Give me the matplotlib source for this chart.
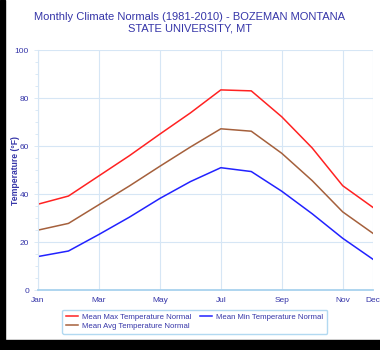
import matplotlib.pyplot as plt
from matplotlib.patches import Rectangle

plt.rcParams['font.family'] = ['Liberation Sans', 'DejaVu Sans']

months = ['Jan', 'Feb', 'Mar', 'Apr', 'May', 'Jun', 'Jul', 'Aug', 'Sep', 'Oct', 'Nov', 'Dec']
tick_months = ['Jan', 'Mar', 'May', 'Jul', 'Sep', 'Nov', 'Dec']
max_temp = [35.8, 39.2, 47.6, 56.0, 65.0, 73.8, 83.4, 83.0, 72.2, 59.2, 43.5, 34.4]
avg_temp = [25.0, 27.8, 35.6, 43.4, 51.6, 59.6, 67.2, 66.2, 57.0, 45.6, 32.6, 23.6]
min_temp = [14.0, 16.3, 23.2, 30.4, 38.2, 45.2, 51.0, 49.4, 41.2, 31.8, 21.6, 12.8]

text_col = '#3535a8'
grid_col = '#d6e6f5'

fig = plt.figure(figsize=(3.8, 3.5), dpi=100)
fig.patch.set_facecolor('white')
ax = fig.add_axes([0.1, 0.171, 0.882, 0.686])

x = list(range(len(months)))
ax.plot(x, max_temp, color='#ff2222', lw=1.1, label='Mean Max Temperature Normal')
ax.plot(x, avg_temp, color='#a5603c', lw=1.1, label='Mean Avg Temperature Normal')
ax.plot(x, min_temp, color='#2222ff', lw=1.1, label='Mean Min Temperature Normal')

ax.set_xlim(0, 11)
ax.set_ylim(0, 100)
ax.set_xticks([months.index(m) for m in tick_months])
ax.set_xticklabels(tick_months)
ax.set_yticks(range(0, 101, 20))
ax.set_yticks(range(0, 101, 5), minor=True)
ax.grid(True, color=grid_col, lw=0.8)
ax.set_axisbelow(True)
for s in ['top', 'right']:
    ax.spines[s].set_visible(False)
ax.spines['left'].set_color(grid_col)
ax.spines['bottom'].set_color('#a8d2ee')
ax.spines['bottom'].set_linewidth(1.3)
ax.tick_params(axis='both', colors=text_col, labelsize=6, length=3, width=0.6)
ax.tick_params(axis='y', which='both', color=grid_col)
ax.tick_params(axis='y', which='minor', length=2)
ax.tick_params(axis='x', length=0, pad=5)
ax.set_ylabel('Temperature (°F)', color=text_col, fontsize=6.2, fontweight='bold')
ax.yaxis.set_label_coords(-0.055, 0.5)

fig.text(0.5, 0.965, 'Monthly Climate Normals (1981-2010) - BOZEMAN MONTANA\nSTATE UNIVERSITY, MT',
         ha='center', va='top', color=text_col, fontsize=8, linespacing=1.15)

leg = ax.legend(loc='upper left', bbox_to_anchor=(0.06, -0.065), ncol=2, fontsize=5.6,
                frameon=True, fancybox=True, edgecolor='#9fd0ee', handlelength=1.5,
                columnspacing=1.1, labelspacing=0.2, borderpad=0.5, handletextpad=0.6)
for t in leg.get_texts():
    t.set_color(text_col)

fig.add_artist(Rectangle((0, 0), 0.014, 1, transform=fig.transFigure, color='black', zorder=10))
fig.add_artist(Rectangle((0, 0), 1, 0.028, transform=fig.transFigure, color='black', zorder=10))

fig.savefig('out.png', dpi=100)
